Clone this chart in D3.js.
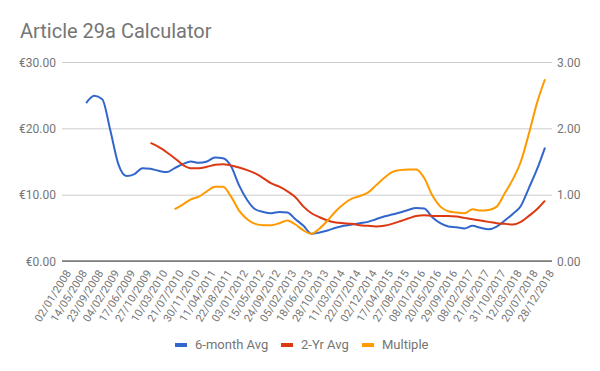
<!DOCTYPE html>
<html>
<head>
<meta charset="utf-8">
<script src="https://cdn.jsdelivr.net/npm/d3@7"></script>
<style>
	body { margin: 0; background: #fff; }
	#chartDiv { width: 600px; height: 371px; }
	text { font-family: Roboto, "Noto Sans", sans-serif; }
</style>
</head>
<body>
<div id="chartDiv"></div>
<script>
// x axis labels (one every 19 weeks of data)
var dateLabels = ["02/01/2008", "14/05/2008", "23/09/2008", "04/02/2009", "17/06/2009",
	"27/10/2009", "10/03/2010", "21/07/2010", "30/11/2010", "11/04/2011", "22/08/2011",
	"03/01/2012", "15/05/2012", "24/09/2012", "05/02/2013", "18/06/2013", "28/10/2013",
	"11/03/2014", "22/07/2014", "02/12/2014", "17/04/2015", "27/08/2015", "08/01/2016",
	"20/05/2016", "29/09/2016", "08/02/2017", "21/06/2017", "31/10/2017", "12/03/2018",
	"20/07/2018", "28/12/2018"];

// series sampled twice per label step, null = no value yet
var sixMonthAvg = [null, null, null, 23.8, 24.9, 24.4, 19.7, 14.6, 12.8, 13.1,
	14.0, 13.9, 13.6, 13.4, 14.0, 14.6, 15.0, 14.8, 15.0, 15.6,
	15.5, 14.3, 11.4, 9.2, 7.8, 7.4, 7.2, 7.4, 7.3, 6.3,
	5.3, 4.1, 4.3, 4.6, 5.0, 5.3, 5.5, 5.7, 5.9, 6.3,
	6.7, 7.0, 7.3, 7.7, 8.0, 7.9, 6.6, 5.7, 5.2, 5.1,
	4.9, 5.3, 5.0, 4.8, 5.2, 6.1, 7.1, 8.3, 11.0, 13.8, 17.1];
var twoYrAvg = [null, null, null, null, null, null, null, null, null, null,
	null, 17.8, 17.2, 16.4, 15.5, 14.5, 14.0, 14.0, 14.2, 14.5,
	14.6, 14.4, 14.1, 13.7, 13.2, 12.5, 11.7, 11.2, 10.5, 9.6,
	8.2, 7.2, 6.6, 6.1, 5.8, 5.7, 5.6, 5.4, 5.3, 5.2,
	5.3, 5.6, 6.0, 6.4, 6.8, 6.9, 6.8, 6.8, 6.8, 6.7,
	6.5, 6.3, 6.1, 5.9, 5.7, 5.6, 5.5, 5.9, 6.8, 7.8, 9.1];
var multiple = [null, null, null, null, null, null, null, null, null, null,
	null, null, null, null, 0.78, 0.85, 0.93, 0.97, 1.05, 1.12,
	1.12, 0.97, 0.76, 0.63, 0.56, 0.54, 0.54, 0.57, 0.61, 0.55,
	0.46, 0.41, 0.49, 0.61, 0.75, 0.86, 0.94, 0.98, 1.03, 1.14,
	1.25, 1.34, 1.37, 1.38, 1.38, 1.25, 0.99, 0.82, 0.75, 0.73,
	0.72, 0.78, 0.76, 0.77, 0.82, 1.02, 1.23, 1.50, 1.92, 2.38, 2.74];

var leftTicks = [0, 10, 20, 30];
var rightTicks = [0, 1, 2, 3];

var seriesList = [
	{name: "6-month Avg", values: sixMonthAvg, axis: "left", color: "#3366cc"},
	{name: "2-Yr Avg", values: twoYrAvg, axis: "left", color: "#dc3912"},
	{name: "Multiple", values: multiple, axis: "right", color: "#ff9900"}
];

function lineChartInit(elem) {
	elem.innerHTML = "";

	var margin = {top: 62, right: 48, bottom: 110, left: 62},
	    width = 600 - margin.left - margin.right,
	    height = 371 - margin.top - margin.bottom;

	var svg = d3.select(elem).append("svg")
		.attr("width", 600)
		.attr("height", 371);

	// title
	svg.append("text")
		.attr("x", 20)
		.attr("y", 38)
		.attr("fill", "#757575")
		.attr("font-size", "20px")
		.text("Article 29a Calculator");

	var g = svg.append("g")
		.attr("transform", "translate(" + margin.left + "," + margin.top + ")");

	//x runs over label steps, data is sampled every half step
	var x = d3.scaleLinear().domain([0, dateLabels.length - 1]).range([0, 483]);
	var yLeft = d3.scaleLinear().domain([0, 30]).range([height, 0]);
	var yRight = d3.scaleLinear().domain([0, 3]).range([height, 0]);

	// gridlines + left labels
	var leftAxis = g.append("g")
		.attr("class", "axis axis--y")
		.call(d3.axisLeft(yLeft).tickValues(leftTicks).tickSize(-width)
			.tickFormat(function(d) { return "€" + d3.format(".2f")(d); }));
	leftAxis.select(".domain").remove();
	leftAxis.selectAll(".tick line").attr("stroke", "#cccccc");
	leftAxis.selectAll(".tick text")
		.attr("x", -6)
		.attr("dy", "0.35em")
		.attr("fill", "#757575")
		.attr("font-size", "12px");

	var rightAxis = g.append("g")
		.attr("class", "axis axis--y2")
		.attr("transform", "translate(" + width + ",0)")
		.call(d3.axisRight(yRight).tickValues(rightTicks).tickSize(0)
			.tickFormat(d3.format(".2f")));
	rightAxis.select(".domain").remove();
	rightAxis.selectAll(".tick text")
		.attr("x", 5)
		.attr("dy", "0.35em")
		.attr("fill", "#757575")
		.attr("font-size", "12px");

	// baseline
	g.append("line")
		.attr("x1", 0)
		.attr("x2", width)
		.attr("y1", height)
		.attr("y2", height)
		.attr("stroke", "#333333");

	// slanted date labels
	var xAxis = g.append("g")
		.attr("class", "axis axis--x")
		.attr("transform", "translate(0," + height + ")")
		.call(d3.axisBottom(x).tickValues(d3.range(dateLabels.length)).tickSize(0)
			.tickFormat(function(d) { return dateLabels[d]; }));
	xAxis.select(".domain").remove();
	xAxis.selectAll(".tick text")
		.attr("text-anchor", "end")
		.attr("fill", "#757575")
		.attr("font-size", "11px")
		.attr("dy", 0)
		.attr("y", 0)
		.attr("transform", "translate(9,12) rotate(-58)");

	// lines
	seriesList.forEach(function(s) {
		var yScale = s.axis == "left" ? yLeft : yRight;
		var line = d3.line()
			.defined(function(d) { return d != null; })
			.x(function(d, i) { return x(i / 2); })
			.y(function(d) { return yScale(d); })
			.curve(d3.curveMonotoneX);
		g.append("path")
			.datum(s.values)
			.attr("fill", "none")
			.attr("stroke", s.color)
			.attr("stroke-width", 2)
			.attr("stroke-linejoin", "round")
			.attr("d", line);
	});

	// legend
	var legendX = [175, 281, 362];
	var legend = svg.append("g").attr("class", "legend");
	seriesList.forEach(function(s, i) {
		legend.append("rect")
			.attr("x", legendX[i])
			.attr("y", 343)
			.attr("width", 12)
			.attr("height", 4)
			.attr("fill", s.color);
		legend.append("text")
			.attr("x", legendX[i] + 20)
			.attr("y", 349)
			.attr("fill", "#757575")
			.attr("font-size", "13px")
			.text(s.name);
	});
}

lineChartInit(document.getElementById("chartDiv"));
</script>
</body>
</html>
